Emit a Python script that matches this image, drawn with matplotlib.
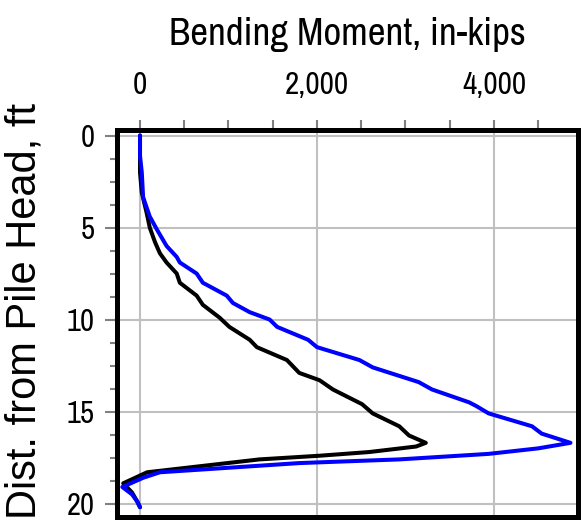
import matplotlib
matplotlib.use("Agg")
import matplotlib.pyplot as plt
from matplotlib.ticker import MultipleLocator, FuncFormatter
from matplotlib import font_manager

# Bending moment profiles along the pile (depth in ft, moment in in-kips)
depth_black = [0.0, 2.0, 3.1, 4.2, 5.0, 5.8, 6.4, 6.9, 7.5, 8.0, 8.7, 9.2, 9.9,
               10.4, 11.1, 11.5, 12.2, 12.9, 13.3, 13.8, 14.6, 15.1, 15.8, 16.3,
               16.7, 16.9, 17.2, 17.4, 17.6, 18.3, 18.9, 19.4, 19.9, 20.2]
moment_black = [0, 0, 20, 75, 110, 170, 225, 300, 415, 450, 640, 710, 900,
                1010, 1240, 1320, 1660, 1800, 2030, 2180, 2510, 2630, 2930, 3040,
                3230, 3120, 2590, 2030, 1350, 80, -190, -90, -30, 0]

depth_blue = [0.0, 1.1, 2.0, 3.35, 4.4, 5.1, 6.0, 6.6, 6.9, 7.5, 8.0, 8.7, 9.1,
              9.6, 10.0, 10.4, 11.1, 11.5, 12.2, 12.6, 13.4, 13.8, 14.5, 14.7,
              15.1, 15.8, 16.2, 16.7, 17.0, 17.3, 17.6, 17.8, 18.3, 18.6, 19.1,
              19.5, 19.9, 20.2]
moment_blue = [0, 0, 20, 35, 110, 190, 300, 415, 450, 640, 710, 980, 1050,
               1240, 1465, 1550, 1900, 2000, 2480, 2630, 3150, 3300, 3720, 3800,
               3940, 4430, 4540, 4865, 4500, 3940, 2930, 1800, 225, 35, -200,
               -90, -30, 0]

x_ticks = [0, 2000, 4000]
y_ticks = [0, 5, 10, 15, 20]

# pick a narrow sans face for the tick labels and the axis title
installed = {f.name for f in font_manager.fontManager.ttflist}
narrow = next((n for n in ["Liberation Sans Narrow", "Archivo Narrow", "Roboto Condensed",
                           "PT Sans Narrow", "Barlow Semi Condensed"] if n in installed),
              "Liberation Sans")

fig = plt.figure(figsize=(5.84, 5.29), dpi=100)
ax = fig.add_axes([117 / 584, 1 - 517 / 529, (578 - 117) / 584, (517 - 130) / 529])

ax.plot(moment_black, depth_black, color="black", lw=2.9, solid_joinstyle="round",
        solid_capstyle="round", zorder=3)
ax.plot(moment_blue, depth_blue, color="#0000ff", lw=2.9, solid_joinstyle="round",
        solid_capstyle="round", zorder=4)

ax.set_xlim(-260, 4950)
ax.set_ylim(20.73, -0.3)

ax.xaxis.tick_top()
ax.xaxis.set_label_position("top")
ax.set_xticks(x_ticks)
ax.set_yticks(y_ticks)
ax.xaxis.set_minor_locator(MultipleLocator(500))
ax.yaxis.set_minor_locator(MultipleLocator(1.25))
ax.xaxis.set_major_formatter(FuncFormatter(lambda v, p: f"{int(v):,}"))

ax.grid(True, which="major", color="#c0c0c0", lw=1.5, zorder=1)

ax.tick_params(axis="x", which="both", top=True, bottom=False, direction="out",
               color="#808080", width=1.5, length=7, pad=15)
ax.tick_params(axis="x", which="major", labelsize=22.5)
ax.tick_params(axis="y", which="major", left=True, right=False, direction="out",
               color="#808080", width=1.5, length=9, pad=7, labelsize=22)
ax.tick_params(axis="y", which="minor", left=True, right=False, direction="out",
               color="#808080", width=1.5, length=5)
for lab in ax.get_xticklabels() + ax.get_yticklabels():
    lab.set_fontfamily(narrow)

for s in ax.spines.values():
    s.set_linewidth(3.6)
    s.set_color("black")

ax.set_xlabel("Bending Moment, in-kips", fontsize=28, family=narrow, labelpad=19)
ax.set_ylabel("Dist. from Pile Head, ft", fontsize=30, family="Liberation Sans")
ax.yaxis.set_label_coords(-0.158, 0.532)

fig.savefig("out.png", dpi=100)
